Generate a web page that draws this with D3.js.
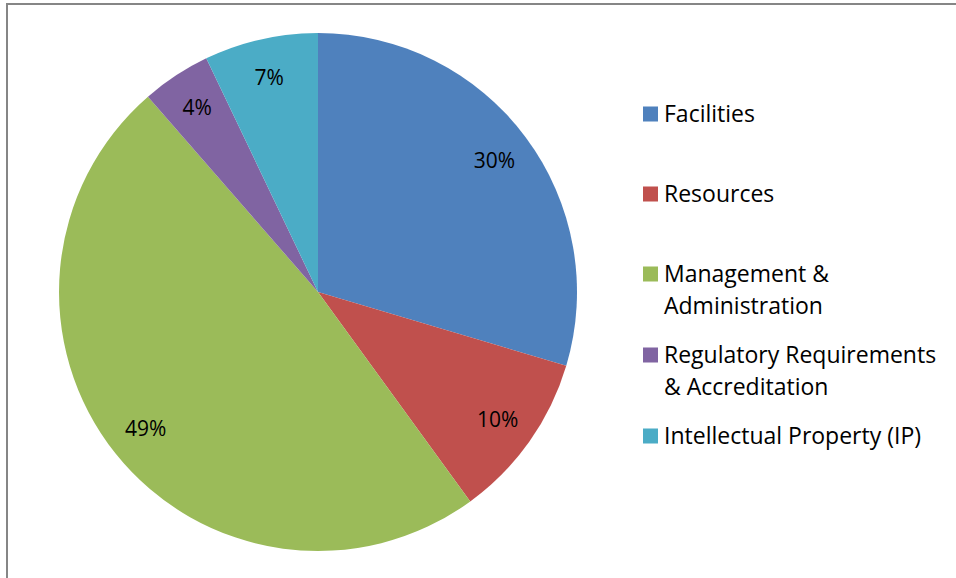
<!DOCTYPE html>
<html>
<head>
<meta charset="utf-8">
<script src="https://cdn.jsdelivr.net/npm/d3@7"></script>
<style>
  body { margin: 0; background: #fff; }
  svg text { font-family: "Open Sans", "Liberation Sans", sans-serif; fill: #000; }
</style>
</head>
<body>
<div id="chart"></div>
<script>
// datos del gráfico
const categorias = ["Facilities", "Resources", "Management & Administration",
  "Regulatory Requirements & Accreditation", "Intellectual Property (IP)"];
const valores = [29.6, 10.4, 48.6, 4.3, 7.1];
const etiquetas = ["30%", "10%", "49%", "4%", "7%"];
const lineasLeyenda = [["Facilities"], ["Resources"], ["Management &", "Administration"],
  ["Regulatory Requirements", "& Accreditation"], ["Intellectual Property (IP)"]];
const colores = ["#4f81bd", "#c0504d", "#9bbb59", "#8064a2", "#4bacc6"];

const width = 956, height = 578;
const svg = d3.select("#chart").append("svg")
  .attr("width", width).attr("height", height);

// borde del área del gráfico (sólo se ve arriba e izquierda)
svg.append("rect")
  .attr("x", 7).attr("y", 4)
  .attr("width", 1000).attr("height", 700)
  .attr("fill", "none").attr("stroke", "#868686").attr("stroke-width", 2);

const cx = 318, cy = 292, radio = 259;

const pie = d3.pie().sort(null).value(d => d);
const arco = d3.arc().innerRadius(0).outerRadius(radio);
const arcoEtiqueta = d3.arc().innerRadius(radio * 0.85).outerRadius(radio * 0.85);

const g = svg.append("g").attr("transform", `translate(${cx},${cy})`);
const porciones = pie(valores);

g.selectAll("path")
  .data(porciones)
  .join("path")
  .attr("d", arco)
  .attr("fill", (d, i) => colores[i]);

g.selectAll("text")
  .data(porciones)
  .join("text")
  .attr("transform", d => `translate(${arcoEtiqueta.centroid(d)})`)
  .attr("text-anchor", "middle")
  .attr("dy", "0.35em")
  .style("font-size", "21px")
  .text((d, i) => etiquetas[i]);

// leyenda
const filasY = [114, 194, 274, 355, 436];
const leyenda = svg.append("g");
categorias.forEach((c, i) => {
  const fila = leyenda.append("g").attr("transform", `translate(643,${filasY[i]})`);
  fila.append("rect")
    .attr("x", 0).attr("y", -7.5)
    .attr("width", 15).attr("height", 15)
    .attr("fill", colores[i]);
  lineasLeyenda[i].forEach((t, j) => {
    fila.append("text")
      .attr("x", 21).attr("y", j * 32)
      .attr("dy", "0.35em")
      .style("font-size", "23px")
      .text(t);
  });
});
</script>
</body>
</html>
